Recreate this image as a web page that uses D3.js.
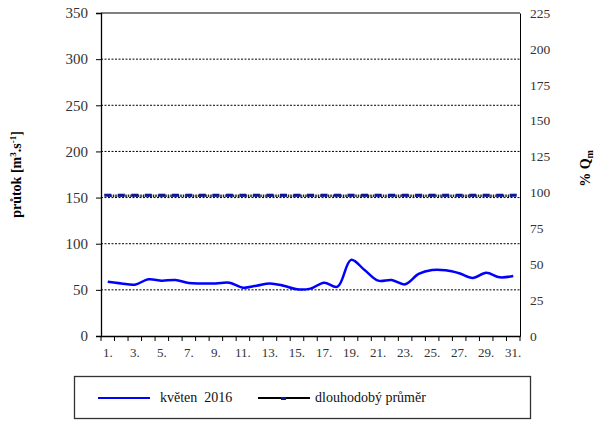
<!DOCTYPE html>
<html><head><meta charset="utf-8">
<script src="https://cdn.jsdelivr.net/npm/d3@7"></script>
<style>body{margin:0;background:#fff}svg{display:block}svg text{white-space:pre}</style>
</head><body>
<svg id="c" width="595" height="423"></svg>
<script>
const days = d3.range(1, 32).map(d => d + ".");
const flow2016 = [58.8,57,55.6,61.4,60,60.7,57.4,57,57,57.8,52.4,54.5,57,54.5,50.6,51.3,57.8,53.4,82.5,71.5,60,60.7,56,67.2,71.5,71.2,68,62.9,68.6,63.6,65];
const longTermMean = days.map(() => 152);
const leftTicks = [0,50,100,150,200,250,300,350];
const rightTicks = [0,25,50,75,100,125,150,175,200,225];
const seriesNames = ["květen  2016", "dlouhodobý průměr"];

const FONT = "Liberation Serif";
const svg = d3.select("#c");
const L = 101, R = 520, T = 13, B = 336;
const x = d3.scaleBand().domain(days).range([L, R]);
const y = d3.scaleLinear().domain([0, 350]).range([B, T]);
const y2 = d3.scaleLinear().domain([0, 225]).range([B, T]);

svg.append("g").selectAll("line").data(leftTicks.filter(t => t > 0 && t < 350)).join("line")
  .attr("x1", L).attr("x2", R).attr("y1", d => y(d)).attr("y2", d => y(d))
  .attr("stroke", "#000").attr("stroke-width", 1).attr("stroke-dasharray", "2,1.5");
svg.append("line").attr("x1", L).attr("x2", R).attr("y1", T).attr("y2", T).attr("stroke", "#000");

const gl = svg.append("g").attr("transform", `translate(${L},0)`)
  .call(d3.axisLeft(y).tickValues(leftTicks).tickSize(5).tickPadding(8));
gl.attr("font-family", FONT);
gl.selectAll("text").style("font-family", FONT).attr("font-size", 15).attr("fill", "#333");
gl.select(".domain").attr("stroke-width", 1.3);

const gr = svg.append("g").attr("transform", `translate(${R},0)`)
  .call(d3.axisRight(y2).tickValues(rightTicks).tickSize(0).tickPadding(10));
gr.attr("font-family", FONT);
gr.selectAll("text").style("font-family", FONT).attr("font-size", 13.5).attr("fill", "#333");

const gb = svg.append("g").attr("transform", `translate(0,${B})`)
  .call(d3.axisBottom(x).tickValues(days.filter((d, i) => i % 2 === 0)).tickSize(0).tickPadding(12));
gb.attr("font-family", FONT);
gb.selectAll("text").style("font-family", FONT).attr("font-size", 13).attr("fill", "#333");
gb.select(".domain").attr("stroke-width", 1.3);
svg.append("g").selectAll("line").data(d3.range(0, 32)).join("line")
  .attr("x1", i => L + i * x.step()).attr("x2", i => L + i * x.step())
  .attr("y1", B).attr("y2", B + 5).attr("stroke", "#000");

const lineGen = arr => d3.line().x((d, i) => x(days[i]) + x.bandwidth() / 2).y(d => y(d))(arr);
svg.append("path").attr("d", lineGen(longTermMean)).attr("fill", "none")
  .attr("stroke", "#222").attr("stroke-width", 2.5).attr("stroke-dasharray", "1.5,1");
svg.append("g").selectAll("rect").data(longTermMean).join("rect")
  .attr("x", (d, i) => x(days[i]) + x.bandwidth() / 2 - 3.5).attr("y", d => y(d) - 2)
  .attr("width", 7).attr("height", 3).attr("fill", "#0a1a9a");

const smooth = d3.line().curve(d3.curveCatmullRom.alpha(0.5))
  .x((d, i) => x(days[i]) + x.bandwidth() / 2).y(d => y(d));
svg.append("path").attr("d", smooth(flow2016)).attr("fill", "none")
  .attr("stroke", "#0000ff").attr("stroke-width", 2.5).attr("stroke-linejoin", "round");

svg.append("text").attr("transform", `translate(21,${(T + B) / 2}) rotate(-90)`)
  .style("font-family", FONT)
  .attr("text-anchor", "middle").attr("font-weight", "bold").attr("font-size", 14)
  .html('průtok [m<tspan dy="-5" font-size="9">3</tspan><tspan dy="5">.s</tspan><tspan dy="-5" font-size="9">-1</tspan><tspan dy="5">]</tspan>');
svg.append("text").attr("transform", `translate(590,${(T + B) / 2 - 6}) rotate(-90)`)
  .style("font-family", FONT)
  .attr("text-anchor", "middle").attr("font-weight", "bold").attr("font-size", 14)
  .html('% Q<tspan dy="3" font-size="10">m</tspan>');

const lg = svg.append("g");
lg.append("rect").attr("x", 74.5).attr("y", 376.5).attr("width", 456).attr("height", 42)
  .attr("fill", "#fff").attr("stroke", "#333").attr("stroke-width", 1.3);
lg.append("line").attr("x1", 98).attr("x2", 150).attr("y1", 398).attr("y2", 398)
  .attr("stroke", "#0000ff").attr("stroke-width", 2);
lg.append("text").attr("x", 160).attr("y", 402).attr("font-size", 14).style("font-family", FONT)
  .attr("fill", "#111").text(seriesNames[0]);
lg.append("line").attr("x1", 258).attr("x2", 310).attr("y1", 398).attr("y2", 398)
  .attr("stroke", "#000").attr("stroke-width", 2);
lg.append("rect").attr("x", 281).attr("y", 397).attr("width", 5).attr("height", 3).attr("fill", "#0a1a9a");
lg.append("text").attr("x", 315).attr("y", 402).attr("font-size", 14).style("font-family", FONT)
  .attr("fill", "#111").text(seriesNames[1]);
</script>
</body></html>
